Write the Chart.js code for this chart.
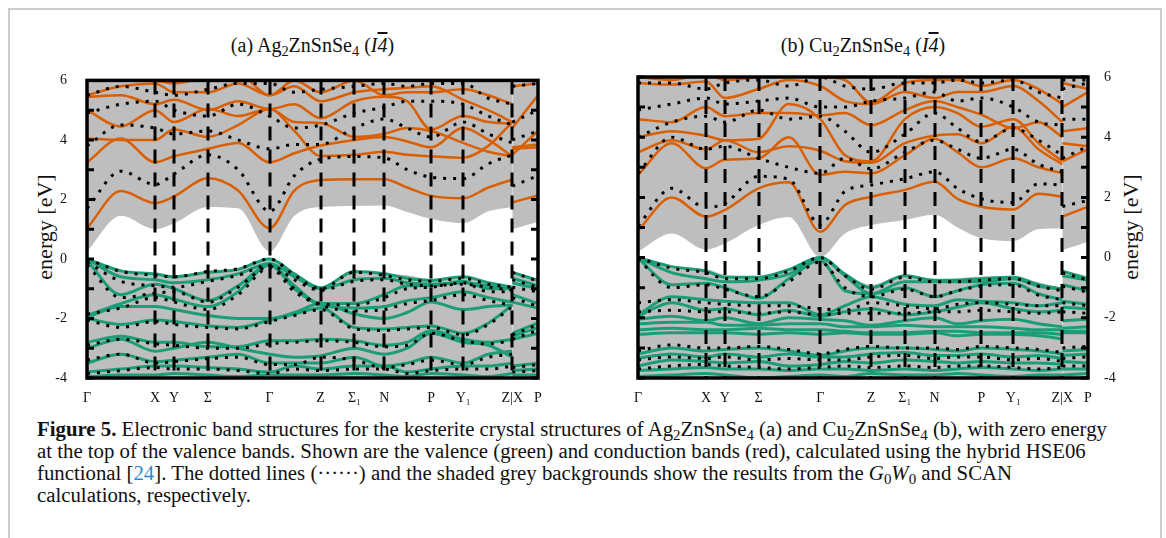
<!DOCTYPE html>
<html>
<head>
<meta charset="utf-8">
<script src="https://cdn.jsdelivr.net/npm/chart.js@4/dist/chart.umd.min.js"></script>
<style>
    body { margin: 0; background: #fff; width: 1166px; height: 538px; overflow: hidden; position: relative; font-family: "Liberation Serif", "DejaVu Serif", serif; color: #111; }
    .frame { position: absolute; left: 8px; top: 8px; width: 1154px; height: 560px; border: 2px solid #cccccc; box-sizing: border-box; }
    canvas { position: absolute; }
    sub { font-size: 0.72em; line-height: 0; vertical-align: -0.25em; }
    .title { position: absolute; top: 34px; font-size: 20px; text-align: center; }
    .ylab { position: absolute; top: 214px; width: 140px; margin-left: -70px; text-align: center; font-size: 22px; transform: rotate(-90deg); }
    .caption { position: absolute; left: 37px; top: 418px; font-size: 20.8px; line-height: 22px; white-space: nowrap; }
    .ref { color: #2b8ccf; }
    .ov { text-decoration: overline; }
</style>
</head>
<body>
<div class="frame"></div>

<div class="title" style="left:87px; width:451px;">(a) Ag<sub>2</sub>ZnSnSe<sub>4</sub> (<i>I</i><i class="ov">4</i>)</div>
<div class="title" style="left:638px; width:450px;">(b) Cu<sub>2</sub>ZnSnSe<sub>4</sub> (<i>I</i><i class="ov">4</i>)</div>
<div class="ylab" style="left:45px;">energy [eV]</div>
<div class="ylab" style="left:1131px;">energy [eV]</div>

<canvas id="chartAg" width="520" height="345" style="left:30px; top:60px;"></canvas>
<canvas id="chartCu" width="520" height="345" style="left:625px; top:60px;"></canvas>

<div class="caption"><b>Figure 5.</b> Electronic band structures for the kesterite crystal structures of Ag<sub>2</sub>ZnSnSe<sub>4</sub> (a) and Cu<sub>2</sub>ZnSnSe<sub>4</sub> (b), with zero energy<br>at the top of the valence bands. Shown are the valence (green) and conduction bands (red), calculated using the hybrid HSE06<br>functional [<span class="ref">24</span>]. The dotted lines (&middot;&middot;&middot;&middot;&middot;&middot;) and the shaded grey backgrounds show the results from the <i>G</i><sub>0</sub><i>W</i><sub>0</sub> and SCAN<br>calculations, respectively.</div>

<script>
// k-path: high-symmetry points and the sample grid (index 16 is the Z|X break)
const kTicks = [0, 0.151, 0.193, 0.268, 0.405, 0.518, 0.593, 0.659, 0.763, 0.834, 0.943, 1.0];
const kLabels = ["Γ", "X", "Y", "Σ", "Γ", "Z", "Σ₁", "N", "P", "Y₁", "Z|X", "P"];
const kGrid = [0, 0.075, 0.151, 0.193, 0.268, 0.335, 0.405, 0.46, 0.518, 0.593, 0.659, 0.71, 0.763, 0.834, 0.89, 0.943, 0.943, 0.943, 1.0];
const energyTicks = [-4, -3, -2, -1, 0, 1, 2, 3, 4, 5, 6];

// (a) Ag2ZnSnSe4 - HSE06 conduction bands
const agHseCond = [
    [1.03, 2.28, 1.88, 2.1, 2.71, 2.3, 1.03, 2.3, 2.65, 2.68, 2.68, 2.4, 2.12, 2.04, 2.4, 2.66, null, 1.9, 2.13],
    [3.25, 4.05, 3.25, 3.45, 3.7, 3.9, 3.25, 3.55, 3.81, 4.0, 4.1, 3.95, 3.75, 4.4, 4.0, 3.45, null, 3.75, 3.85],
    [4.05, 4.0, 4.0, 4.35, 4.1, 4.5, 5.04, 4.3, 3.46, 3.5, 3.6, 3.5, 3.45, 3.4, 3.8, 4.6, null, 3.7, 3.75],
    [5.0, 4.45, 5.0, 4.6, 5.05, 4.8, 5.04, 4.6, 4.57, 4.1, 4.2, 4.4, 4.3, 3.9, 3.6, 3.45, null, 3.5, 4.3],
    [5.45, 5.5, 5.2, 5.35, 5.0, 5.3, 5.04, 5.2, 4.73, 5.3, 5.45, 5.3, 4.35, 4.8, 4.6, 4.55, null, 4.4, 5.5],
    [5.5, 5.8, 5.9, 5.6, 5.6, 5.9, 5.5, 5.8, 5.3, 5.6, 5.7, 5.75, 5.8, 5.35, 5.0, 4.6, null, 5.8, 5.9],
    [6.2, 6.1, 6.0, 5.9, 6.1, 6.2, 5.5, 6.0, 5.6, 6.0, 5.5, 5.6, 5.6, 5.7, 5.5, 5.2, null, 6.0, 6.2],
];
// (a) HSE06 valence bands
const agHseVal = [
    [0, -0.4, -0.5, -0.6, -0.45, -0.35, 0, -0.5, -0.97, -0.42, -0.5, -0.65, -0.72, -0.6, -0.8, -0.95, null, -0.45, -0.72],
    [0, -0.6, -0.7, -0.8, -0.7, -0.5, -0.15, -0.6, -1.0, -0.7, -0.65, -0.8, -0.85, -0.8, -0.9, -1.0, null, -0.65, -0.9],
    [-0.05, -1.2, -0.85, -1.0, -1.4, -0.9, -0.2, -0.9, -1.5, -1.5, -1.2, -0.9, -0.9, -0.75, -1.0, -1.0, null, -0.8, -1.0],
    [-1.9, -1.5, -1.2, -1.35, -1.6, -1.1, -0.2, -1.0, -1.55, -1.65, -1.6, -1.4, -1.3, -1.1, -1.3, -1.45, null, -1.2, -1.5],
    [-1.95, -1.6, -1.6, -1.7, -1.9, -2.0, -2.0, -1.8, -1.5, -1.85, -2.0, -1.8, -1.45, -1.7, -1.6, -1.55, null, -1.45, -1.65],
    [-2.0, -2.2, -2.05, -2.1, -2.25, -2.3, -2.05, -1.85, -1.65, -2.3, -2.35, -2.3, -2.25, -2.5, -2.15, -1.55, null, -2.5, -2.15],
    [-2.8, -2.6, -2.8, -2.8, -2.95, -2.95, -2.75, -2.75, -2.7, -2.75, -2.9, -2.8, -2.4, -2.7, -2.8, -2.7, null, -2.6, -2.3],
    [-3.0, -2.7, -3.1, -3.0, -2.8, -3.0, -3.2, -3.3, -3.25, -3.0, -3.2, -3.0, -2.5, -2.8, -2.9, -3.3, null, -2.7, -2.5],
    [-3.5, -3.2, -3.45, -3.4, -3.3, -3.2, -3.5, -3.5, -3.5, -3.3, -3.6, -3.5, -3.3, -3.5, -3.2, -3.1, null, -3.6, -3.5],
    [-3.8, -3.7, -3.6, -3.6, -3.65, -3.7, -3.8, -3.6, -3.7, -3.6, -3.6, -3.8, -3.7, -3.6, -3.6, -3.5, null, -3.75, -3.7],
    [-3.95, -3.9, -3.9, -3.85, -3.9, -3.95, -3.9, -3.9, -3.9, -3.85, -3.9, -3.95, -3.85, -3.9, -3.95, -3.85, null, -3.9, -3.9],
];
// (a) G0W0 bands (dotted)
const agGwCond = [
    [1.7, 2.95, 2.5, 2.85, 3.5, 3.0, 1.6, 2.8, 3.35, 3.44, 3.4, 3.0, 2.75, 2.7, 3.2, 3.5, null, 2.45, 2.8],
    [3.8, 4.5, 4.4, 4.2, 4.3, 4.0, 3.7, 3.85, 3.85, 4.4, 4.7, 4.4, 4.1, 4.6, 4.2, 3.9, null, 4.0, 4.3],
    [4.9, 5.2, 5.3, 5.0, 4.8, 5.2, 4.8, 4.4, 4.5, 4.9, 5.1, 5.3, 5.3, 5.2, 4.8, 4.5, null, 4.6, 5.0],
    [5.5, 5.8, 5.6, 5.5, 5.7, 5.9, 5.9, 5.6, 5.7, 5.8, 5.9, 5.8, 5.9, 5.9, 5.4, 5.2, null, 5.8, 5.9],
];
const agGwVal = [
    [0, -0.42, -0.55, -0.6, -0.42, -0.33, 0, -0.55, -1.0, -0.45, -0.55, -0.7, -0.75, -0.65, -0.85, -0.95, null, -0.45, -0.75],
    [-0.1, -0.75, -0.9, -0.95, -0.75, -0.55, -0.2, -0.7, -1.05, -0.75, -0.7, -0.85, -0.9, -0.85, -0.95, -1.05, null, -0.7, -0.95],
    [-0.2, -1.3, -1.15, -1.1, -1.45, -0.95, -0.25, -1.0, -1.5, -1.55, -1.3, -1.0, -0.95, -0.8, -1.1, -1.1, null, -0.95, -1.1],
    [-1.85, -1.65, -1.3, -1.45, -1.7, -1.2, -0.3, -1.1, -1.55, -1.75, -1.7, -1.5, -1.4, -1.2, -1.4, -1.55, null, -1.3, -1.6],
    [-2.05, -2.3, -2.1, -2.2, -2.3, -2.35, -2.1, -1.9, -1.7, -2.35, -2.4, -2.35, -2.3, -2.55, -2.2, -1.6, null, -2.55, -2.2],
    [-2.9, -2.7, -2.85, -2.9, -3.0, -3.0, -2.85, -2.8, -2.75, -2.8, -2.95, -2.9, -2.5, -2.75, -2.85, -2.75, null, -2.7, -2.4],
    [-3.4, -3.2, -3.5, -3.45, -3.35, -3.3, -3.55, -3.55, -3.3, -3.4, -3.65, -3.55, -3.4, -3.55, -3.3, -3.2, null, -3.65, -3.55],
    [-3.85, -3.75, -3.65, -3.7, -3.7, -3.75, -3.85, -3.7, -3.75, -3.7, -3.7, -3.85, -3.75, -3.7, -3.7, -3.6, null, -3.8, -3.75],
];
// (a) SCAN gap edges (grey shading)
const agScanCbm = [0.25, 1.45, 1.0, 1.2, 1.75, 1.7, 0.25, 1.45, 1.75, 1.78, 1.8, 1.58, 1.35, 1.2, 1.6, 1.75, null, 1.0, 1.25];
const agScanVbm = [0.0, -0.35, -0.5, -0.57, -0.4, -0.3, 0.0, -0.5, -0.97, -0.4, -0.48, -0.55, -0.67, -0.57, -0.85, -1.0, null, -0.4, -0.68];

// (b) Cu2ZnSnSe4 - HSE06 conduction bands
const cuHseCond = [
    [0.9, 2.0, 1.36, 1.58, 2.3, 2.5, 0.86, 1.75, 2.02, 2.25, 2.52, 1.95, 1.69, 1.6, 2.12, 2.02, null, 1.36, 1.69],
    [2.75, 3.8, 2.97, 3.25, 3.3, 4.0, 2.75, 2.85, 2.8, 3.4, 3.95, 3.5, 3.0, 3.3, 3.0, 2.8, null, 3.2, 3.6],
    [3.5, 3.9, 3.6, 3.9, 3.5, 3.7, 3.55, 3.2, 3.15, 3.8, 4.05, 4.1, 3.8, 4.35, 3.6, 3.1, null, 3.8, 3.7],
    [4.0, 4.2, 4.05, 3.9, 3.95, 5.1, 4.6, 3.4, 3.2, 4.6, 5.0, 4.8, 4.35, 4.6, 3.8, 3.2, null, 4.2, 4.3],
    [4.6, 4.5, 5.0, 4.7, 4.8, 4.8, 4.73, 4.8, 4.4, 4.9, 5.2, 5.0, 4.75, 4.3, 4.5, 4.0, null, 5.0, 5.5],
    [5.8, 5.75, 5.85, 5.3, 5.6, 5.9, 5.7, 5.2, 5.1, 5.5, 5.3, 5.5, 5.5, 5.7, 5.2, 4.5, null, 5.8, 5.6],
    [6.0, 5.9, 6.1, 5.9, 6.0, 6.2, 6.0, 5.9, 5.15, 5.8, 5.9, 5.9, 5.7, 5.9, 5.6, 5.1, null, 6.2, 6.0],
];
// (b) HSE06 valence bands
const cuHseVal = [
    [0, -0.3, -0.45, -0.65, -0.65, -0.4, 0, -0.55, -1.0, -0.6, -0.75, -0.75, -0.7, -0.65, -0.9, -1.05, null, -0.45, -0.7],
    [0, -0.5, -0.7, -0.8, -0.75, -0.55, 0, -0.6, -1.2, -0.8, -0.8, -0.8, -0.8, -0.7, -0.95, -1.05, null, -0.6, -0.75],
    [-0.02, -0.9, -0.85, -1.0, -1.35, -0.7, -0.1, -1.1, -1.2, -1.0, -1.3, -1.1, -0.9, -0.85, -1.2, -1.4, null, -0.9, -1.1],
    [-1.9, -1.3, -1.4, -1.45, -1.5, -1.5, -1.9, -1.6, -1.3, -1.55, -1.6, -1.4, -1.45, -1.5, -1.6, -1.5, null, -1.45, -1.55],
    [-1.95, -1.5, -1.75, -1.7, -1.9, -1.75, -1.95, -1.8, -1.7, -1.9, -1.8, -1.65, -1.5, -1.7, -1.8, -1.75, null, -1.65, -1.7],
    [-2.05, -1.95, -2.1, -2.0, -2.2, -2.0, -2.05, -2.1, -2.25, -2.1, -2.0, -2.2, -2.1, -2.05, -2.2, -2.3, null, -2.1, -2.05],
    [-2.2, -2.15, -2.15, -2.25, -2.25, -2.2, -2.2, -2.3, -2.3, -2.25, -2.3, -2.3, -2.3, -2.35, -2.4, -2.4, null, -2.35, -2.3],
    [-2.4, -2.35, -2.4, -2.4, -2.35, -2.4, -2.4, -2.45, -2.5, -2.5, -2.45, -2.45, -2.5, -2.5, -2.5, -2.55, null, -2.45, -2.45],
    [-2.55, -2.5, -2.5, -2.5, -2.55, -2.5, -2.55, -2.5, -2.55, -2.55, -2.5, -2.6, -2.55, -2.55, -2.6, -2.7, null, -2.5, -2.5],
    [-3.2, -3.0, -3.1, -3.05, -3.0, -3.1, -3.25, -3.1, -3.0, -3.0, -3.05, -3.1, -3.0, -3.05, -3.1, -3.2, null, -3.1, -3.05],
    [-3.35, -3.2, -3.3, -3.2, -3.3, -3.2, -3.3, -3.3, -3.2, -3.15, -3.25, -3.25, -3.2, -3.3, -3.25, -3.35, null, -3.25, -3.2],
    [-3.6, -3.4, -3.45, -3.5, -3.45, -3.6, -3.55, -3.45, -3.5, -3.4, -3.45, -3.5, -3.45, -3.5, -3.5, -3.55, null, -3.45, -3.5],
    [-3.75, -3.7, -3.65, -3.7, -3.7, -3.75, -3.7, -3.7, -3.75, -3.7, -3.75, -3.7, -3.65, -3.7, -3.75, -3.7, null, -3.7, -3.7],
    [-3.95, -3.9, -3.85, -3.9, -4.0, -3.95, -3.9, -3.95, -3.85, -3.9, -3.9, -3.85, -3.9, -3.95, -3.9, -3.9, null, -3.9, -3.85],
];
// (b) G0W0 bands (dotted)
const cuGwCond = [
    [1.05, 2.3, 1.67, 1.8, 2.7, 2.6, 1.1, 2.2, 2.41, 2.62, 2.85, 2.3, 1.95, 1.83, 2.45, 2.41, null, 1.7, 1.9],
    [2.8, 4.0, 3.6, 3.7, 3.3, 3.0, 2.8, 3.3, 2.95, 3.5, 3.9, 3.6, 3.3, 3.6, 3.1, 2.85, null, 3.3, 3.7],
    [4.0, 4.5, 4.7, 4.5, 4.9, 4.6, 4.7, 4.2, 3.5, 4.1, 4.8, 4.3, 3.85, 4.3, 3.9, 3.4, null, 4.6, 4.6],
    [4.9, 5.1, 5.3, 5.1, 5.2, 5.3, 5.0, 5.0, 5.2, 5.3, 5.5, 5.2, 5.3, 5.0, 4.5, 4.4, null, 5.6, 5.8],
    [5.8, 5.8, 5.6, 5.8, 5.9, 5.7, 6.0, 5.7, 5.6, 5.8, 5.8, 5.9, 5.8, 5.9, 5.5, 5.3, null, 5.9, 5.9],
];
const cuGwVal = [
    [0, -0.35, -0.5, -0.7, -0.7, -0.45, 0, -0.6, -1.05, -0.65, -0.8, -0.8, -0.75, -0.7, -0.95, -1.1, null, -0.5, -0.75],
    [-0.05, -1.0, -0.9, -1.05, -1.3, -0.8, -0.15, -1.0, -1.3, -1.05, -1.3, -1.1, -0.95, -0.9, -1.25, -1.4, null, -0.95, -1.15],
    [-1.5, -1.4, -1.5, -1.55, -1.6, -1.6, -1.7, -1.75, -1.5, -1.6, -1.7, -1.55, -1.5, -1.55, -1.6, -1.6, null, -1.5, -1.6],
    [-1.8, -1.75, -1.8, -1.8, -1.85, -1.8, -1.9, -1.85, -1.85, -1.85, -1.8, -1.8, -1.75, -1.8, -1.85, -1.8, null, -1.8, -1.85],
    [-3.1, -2.9, -3.0, -3.0, -2.95, -3.05, -3.2, -3.05, -2.95, -3.0, -3.0, -3.05, -2.95, -3.0, -3.05, -3.15, null, -3.0, -2.95],
    [-3.4, -3.3, -3.35, -3.3, -3.4, -3.35, -3.4, -3.4, -3.3, -3.25, -3.35, -3.3, -3.3, -3.4, -3.35, -3.45, null, -3.35, -3.3],
    [-3.7, -3.6, -3.55, -3.6, -3.65, -3.7, -3.65, -3.6, -3.65, -3.6, -3.65, -3.6, -3.6, -3.65, -3.7, -3.65, null, -3.6, -3.6],
];
// (b) SCAN gap edges
const cuScanCbm = [0.2, 0.8, 0.27, 0.47, 1.08, 1.35, 0.02, 0.8, 1.08, 1.25, 1.42, 1.0, 0.64, 0.55, 0.95, 0.97, null, 0.25, 0.53];
const cuScanVbm = [0, -0.3, -0.38, -0.58, -0.63, -0.35, 0, -0.52, -0.9, -0.55, -0.74, -0.69, -0.63, -0.6, -0.82, -1.02, null, -0.41, -0.63];

const GREY = "#bebebe";
const ORANGE = "#d95f02";
const GREEN = "#1b9e77";
const tickFont = { family: "Liberation Serif", size: 14 };

function toPoints(values) {
    return kGrid.map((k, i) => ({ x: k, y: values[i] }));
}

// dashed k-point lines, inward ticks and the heavy frame
const framePlugin = {
    id: "bandFrame",
    afterDatasetsDraw(chart) {
        const { ctx, chartArea: area, scales } = chart;
        ctx.save();
        ctx.strokeStyle = "#000";
        ctx.lineWidth = 3;
        ctx.setLineDash([14, 9]);
        kTicks.slice(1, -1).forEach((k) => {
            const x = Math.round(scales.x.getPixelForValue(k));
            ctx.beginPath();
            ctx.moveTo(x, area.top);
            ctx.lineTo(x, area.bottom);
            ctx.stroke();
        });
        ctx.setLineDash([]);
        ctx.lineWidth = 3;
        energyTicks.forEach((e) => {
            const y = scales.y.getPixelForValue(e);
            ctx.beginPath();
            ctx.moveTo(area.left, y);
            ctx.lineTo(area.left + 7, y);
            ctx.moveTo(area.right, y);
            ctx.lineTo(area.right - 7, y);
            ctx.stroke();
        });
        ctx.lineWidth = 3.5;
        ctx.strokeRect(area.left, area.top, area.right - area.left, area.bottom - area.top);
        ctx.restore();
    },
};

function buildChart(canvasId, side, hseCond, hseVal, gwCond, gwVal, scanCbm, scanVbm) {
    const datasets = [];
    gwCond.concat(gwVal).forEach((band) => {
        datasets.push({
            data: toPoints(band), borderColor: "#000", borderWidth: 3,
            borderDash: [3, 7], borderCapStyle: "butt", order: 1,
        });
    });
    hseCond.forEach((band) => {
        datasets.push({ data: toPoints(band), borderColor: ORANGE, borderWidth: 2.5, order: 2 });
    });
    hseVal.forEach((band) => {
        datasets.push({ data: toPoints(band), borderColor: GREEN, borderWidth: 3, order: 2 });
    });
    datasets.push({ data: toPoints(scanCbm), fill: "end", backgroundColor: GREY, borderWidth: 0, order: 3 });
    datasets.push({ data: toPoints(scanVbm), fill: "start", backgroundColor: GREY, borderWidth: 0, order: 3 });

    const ctx = document.getElementById(canvasId).getContext("2d");
    return new Chart(ctx, {
        type: "line",
        data: { datasets },
        options: {
            responsive: false,
            animation: false,
            layout: { padding: side === "left" ? { top: 17, right: 12 } : { top: 17, left: 13 } },
            elements: {
                point: { radius: 0 },
                line: { cubicInterpolationMode: "monotone", fill: false },
            },
            datasets: { line: { clip: 0, spanGaps: false } },
            plugins: { legend: { display: false }, tooltip: { enabled: false } },
            scales: {
                x: {
                    type: "linear",
                    min: 0,
                    max: 1,
                    afterBuildTicks: (scale) => { scale.ticks = kTicks.map((v) => ({ value: v })); },
                    afterFit: (scale) => { scale.height = 27; },
                    ticks: {
                        autoSkip: false, maxRotation: 0, padding: 4, color: "#111", font: tickFont,
                        callback: (value, index) => kLabels[index],
                    },
                    grid: { display: false },
                    border: { display: false },
                },
                y: {
                    type: "linear",
                    position: side,
                    min: -4,
                    max: 6,
                    afterFit: (scale) => { scale.width = 57; },
                    ticks: { stepSize: 2, padding: side === "left" ? 12 : 8, color: "#111", font: tickFont },
                    grid: { display: false },
                    border: { display: false },
                },
            },
        },
        plugins: [framePlugin],
    });
}

buildChart("chartAg", "left", agHseCond, agHseVal, agGwCond, agGwVal, agScanCbm, agScanVbm);
buildChart("chartCu", "right", cuHseCond, cuHseVal, cuGwCond, cuGwVal, cuScanCbm, cuScanVbm);
</script>
</body>
</html>
